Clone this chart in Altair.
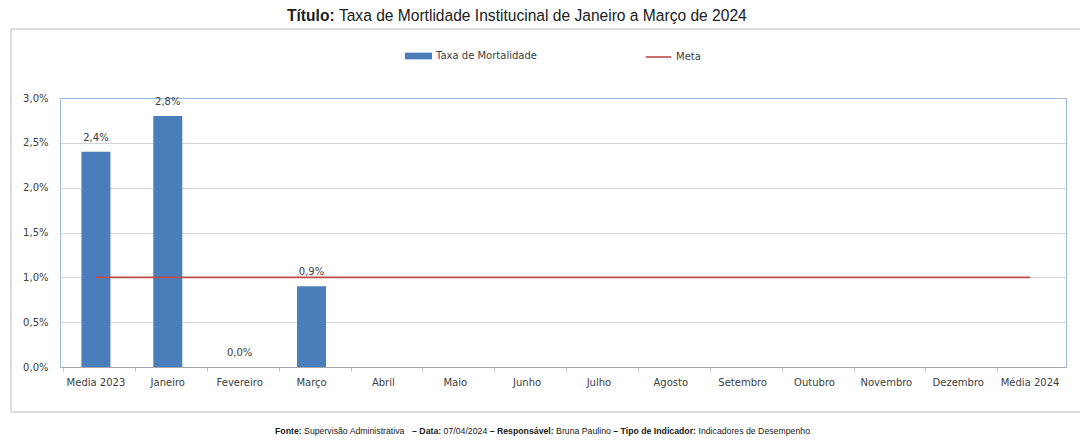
import altair as alt
import pandas as pd

categorias = ["Media 2023", "Janeiro", "Fevereiro", "Março", "Abril", "Maio", "Junho",
              "Julho", "Agosto", "Setembro", "Outubro", "Novembro", "Dezembro", "Média 2024"]
taxa = [0.024, 0.028, 0.0, 0.009, None, None, None, None, None, None, None, None, None, None]
meta = [0.01] * 14
y_ticks = [0.0, 0.005, 0.01, 0.015, 0.02, 0.025, 0.03]

titulo = [("Título:", True), ("Taxa de Mortlidade Institucinal  de Janeiro a Março de 2024", False)]
rodape = [
    ("Fonte:", True), ("Supervisão Administrativa  ", False), ("– Data:", True),
    ("07/04/2024", False), ("– Responsável:", True), ("Bruna Paulino", False),
    ("– Tipo de Indicador:", True), ("Indicadores de Desempenho", False),
]

# --- approximate Arial / Liberation Sans advance widths (1/1000 em), used only to lay out mixed bold text
_REG = {" ": 278, ":": 278, "/": 278, "–": 556, ",": 278, ".": 278, "ã": 556, "á": 556, "ç": 500,
        "í": 278, "é": 556}
_BOLD = {" ": 278, ":": 333, "/": 278, "–": 556, ",": 278, ".": 278, "ã": 556, "á": 556, "ç": 556,
         "í": 278, "é": 556}
for c, w in zip("abcdefghijklmnopqrstuvwxyz",
                [556, 556, 500, 556, 556, 278, 556, 556, 222, 222, 500, 222, 833, 556, 556, 556, 556,
                 333, 500, 278, 556, 500, 722, 500, 500, 500]):
    _REG[c] = w
for c, w in zip("abcdefghijklmnopqrstuvwxyz",
                [556, 611, 556, 611, 556, 333, 611, 611, 278, 278, 556, 278, 889, 611, 611, 611, 611,
                 389, 556, 333, 611, 556, 778, 556, 556, 500]):
    _BOLD[c] = w
for c, w in zip("ABCDEFGHIJKLMNOPQRSTUVWXYZ",
                [667, 667, 722, 722, 667, 611, 778, 722, 278, 500, 667, 556, 833, 722, 778, 667, 778,
                 722, 667, 611, 722, 667, 944, 667, 667, 611]):
    _REG[c] = w
for c, w in zip("ABCDEFGHIJKLMNOPQRSTUVWXYZ",
                [722, 722, 722, 722, 667, 611, 778, 722, 278, 556, 722, 611, 833, 722, 778, 667, 778,
                 722, 667, 611, 722, 667, 944, 667, 667, 611]):
    _BOLD[c] = w
for d in "0123456789":
    _REG[d] = 556
    _BOLD[d] = 556


def text_w(s, bold):
    t = _BOLD if bold else _REG
    return sum(t.get(ch, 556) for ch in s) / 1000.0


def layout(segs, start, span):
    total = sum(text_w(t, b) for t, b in segs) + 0.278 * (len(segs) - 1)
    size = span / total
    xs, x = [], start
    for t, b in segs:
        xs.append(x)
        x += (text_w(t, b) + 0.278) * size
    return xs, size


df = pd.DataFrame({"mes": categorias, "taxa": taxa, "meta": meta})
df["serie"] = "Taxa de Mortalidade"
df["serie2"] = "Meta"

W, H = 1006, 269
FONT = "DejaVu Sans"
TXT = "#404040"
BLUE = "#4a7ebb"
RED = "#be4b48"

xenc = alt.X("mes:N", sort=categorias, title=None,
             axis=alt.Axis(labelAngle=0, labelFont=FONT, labelFontSize=10, labelColor=TXT,
                           domainColor="#a6a6a6", tickColor="#bfbfbf", tickSize=4, bandPosition=0,
                           labelPadding=6, grid=False))
yscale = alt.Scale(domain=[0, 0.03])

base = alt.Chart(df)

bars = base.transform_filter("isValid(datum.taxa)").mark_bar(size=29).encode(
    x=xenc,
    y=alt.Y("taxa:Q", scale=yscale, title=None,
            axis=alt.Axis(values=y_ticks, labelExpr="replace(format(datum.value, '.1%'), '.', ',')",
                          labelFont=FONT, labelFontSize=10, labelColor=TXT,
                          domain=False, ticks=False, labelPadding=12,
                          gridColor={"condition": {"test": "datum.value >= 0.03", "value": "#9dbbdb"},
                                     "value": "#d4d4d4"})),
    color=alt.Color("serie:N", scale=alt.Scale(domain=["Taxa de Mortalidade"], range=[BLUE]),
                    legend=alt.Legend(title=None, orient="none", legendX=345, legendY=-55.5,
                                      symbolType="M-1,-0.25H1V0.25H-1Z", symbolSize=729,
                                      symbolStrokeWidth=0, labelFont=FONT, labelFontSize=10,
                                      labelColor=TXT, labelOffset=4)),
)

labels = base.transform_filter("isValid(datum.taxa)").transform_calculate(
    rot="replace(format(datum.taxa, '.1%'), '.', ',')"
).mark_text(dy=-14, font=FONT, fontSize=10, color=TXT, baseline="middle").encode(
    x=alt.X("mes:N", sort=categorias),
    y=alt.Y("taxa:Q", scale=yscale),
    text="rot:N",
)

line = base.mark_line(strokeWidth=1.6).encode(
    x=alt.X("mes:N", sort=categorias),
    y=alt.Y("meta:Q", scale=yscale),
    stroke=alt.Stroke("serie2:N", scale=alt.Scale(domain=["Meta"], range=[RED]),
                      legend=alt.Legend(title=None, orient="none", legendX=585, legendY=-54.5,
                                        symbolType="stroke", symbolSize=625, symbolStrokeWidth=1.6,
                                        labelFont=FONT, labelFontSize=10, labelColor=TXT,
                                        labelOffset=4)),
)

# outer chart frame (open on the right, as in the reference): top, left, bottom edges
one = pd.DataFrame({"a": [0]})
frame_style = dict(stroke="#d0d0d0", strokeWidth=1.5)
frame_top = alt.Chart(one).mark_rule(**frame_style).encode(
    x=alt.value(-49), x2=alt.value(1040), y=alt.value(-69))
frame_bot = alt.Chart(one).mark_rule(**frame_style).encode(
    x=alt.value(-49), x2=alt.value(1040), y=alt.value(314))
frame_left = alt.Chart(one).mark_rule(**frame_style).encode(
    x=alt.value(-49), y=alt.value(-69), y2=alt.value(314))

# title: page x 287 .. 753, centred on page y 16  (plot origin is page 60, 98)
tit_x, tit_size = layout(titulo, 227, 466)
tit_layers = [
    alt.Chart(pd.DataFrame({"t": [t]})).mark_text(
        align="left", baseline="middle", font="Liberation Sans", fontSize=round(tit_size, 2),
        fontWeight="bold" if b else "normal", color="#202020"
    ).encode(x=alt.value(round(x, 1)), y=alt.value(-82), text="t:N")
    for (t, b), x in zip(titulo, tit_x)
]

# footer: page x 275 .. 810, centred on page y ~432
rod_x, rod_size = layout(rodape, 215, 535)
rod_layers = [
    alt.Chart(pd.DataFrame({"t": [t]})).mark_text(
        align="left", baseline="middle", font="Liberation Sans", fontSize=round(rod_size, 2),
        fontWeight="bold" if b else "normal", color="#202020"
    ).encode(x=alt.value(round(x, 1)), y=alt.value(333), text="t:N")
    for (t, b), x in zip(rodape, rod_x)
]

chart = alt.layer(frame_top, frame_bot, frame_left, bars, line, labels,
                  *tit_layers, *rod_layers).resolve_scale(
    color="independent", stroke="independent"
).properties(
    width=W, height=H,
    autosize=alt.AutoSizeParams(type="none"),
    padding={"left": 52, "top": 90, "right": 14, "bottom": 69},
    background="white",
).configure_view(stroke="#9dbbdb", strokeWidth=1)

chart.save("out.html", embed_options={"renderer": "svg", "actions": False})
